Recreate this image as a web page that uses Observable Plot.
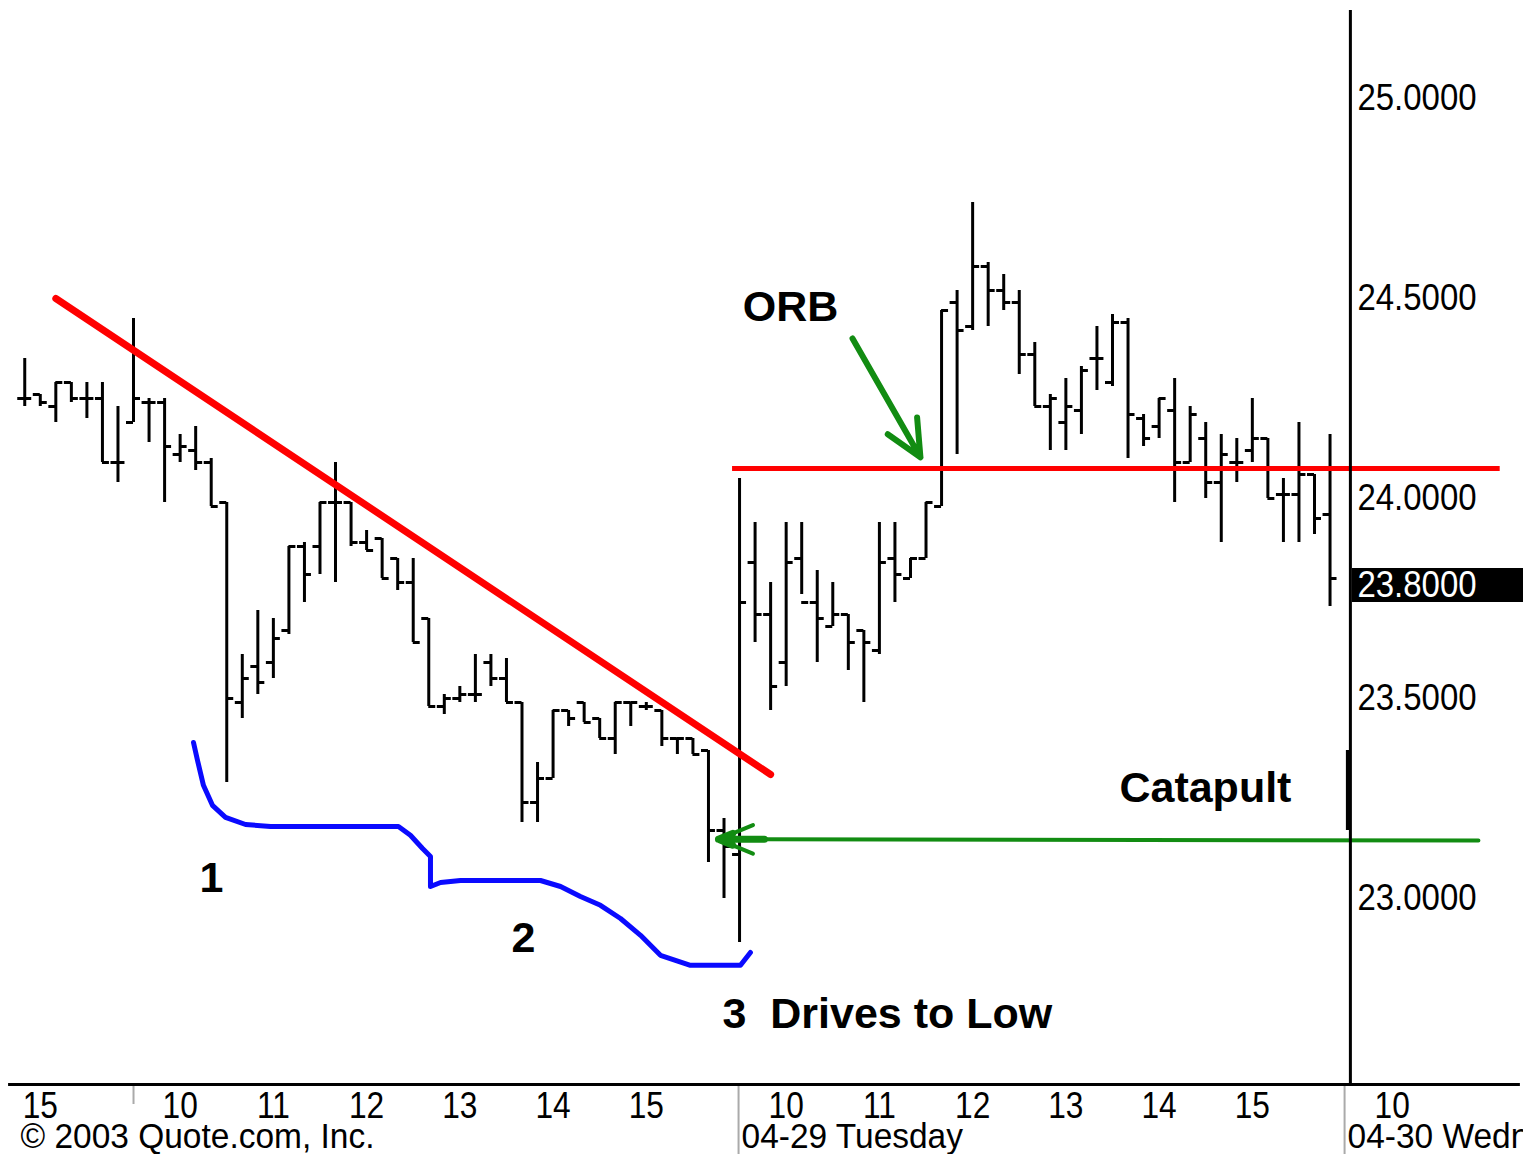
<!DOCTYPE html>
<html><head><meta charset="utf-8">
<script src="https://cdn.jsdelivr.net/npm/d3@7"></script>
<script src="https://cdn.jsdelivr.net/npm/@observablehq/plot@0.6"></script>
<style>
html,body{margin:0;padding:0;background:#fff;overflow:hidden;}
#chart svg{display:block;}
</style>
</head><body><div id="chart"></div>
<script>
// 10-minute bars; slot 0 = 04-28 09:30, slot 39 = 04-29 09:30
const barSlot = d3.range(-7, 78);
const barOpen = [24.25,24.26,24.23,24.29,24.25,24.25,24.09,
  24.19,24.24,24.24,24.11,24.12,24.09,23.99,23.49,23.58,23.59,23.67,23.88,23.88,23.99,23.99,23.89,23.90,23.85,23.79,23.70,23.48,23.50,23.51,23.59,23.55,23.49,23.24,23.30,23.47,23.49,23.45,23.40,23.49,23.48,23.47,23.40,23.40,23.37,23.17,
  23.11,23.84,23.71,23.59,23.85,23.74,23.68,23.71,23.67,23.62,23.85,23.80,23.85,23.98,24.49,24.43,24.58,24.52,24.49,24.36,24.23,24.19,24.22,24.35,24.29,24.44,24.20,24.18,24.22,24.09,24.15,24.04,24.09,24.12,24.15,24.01,24.01,24.06,23.96];
const barHigh = [24.35,24.26,24.29,24.29,24.29,24.29,24.23,
  24.45,24.25,24.25,24.16,24.18,24.10,23.99,23.61,23.72,23.70,23.88,23.89,23.99,24.09,23.99,23.92,23.90,23.85,23.85,23.70,23.51,23.53,23.61,23.61,23.60,23.49,23.34,23.47,23.47,23.49,23.45,23.49,23.49,23.49,23.47,23.40,23.40,23.37,23.20,
  24.05,23.94,23.79,23.94,23.94,23.82,23.79,23.71,23.67,23.94,23.94,23.85,23.99,24.47,24.52,24.74,24.59,24.56,24.52,24.39,24.26,24.30,24.33,24.43,24.46,24.45,24.21,24.25,24.30,24.23,24.19,24.16,24.15,24.25,24.15,24.05,24.19,24.06,24.16];
const barLow = [24.23,24.23,24.19,24.24,24.20,24.09,24.04,
  24.19,24.14,23.99,24.09,24.07,23.98,23.29,23.45,23.51,23.55,23.66,23.74,23.81,23.79,23.88,23.87,23.80,23.77,23.64,23.48,23.46,23.49,23.49,23.53,23.49,23.19,23.19,23.30,23.43,23.44,23.40,23.36,23.43,23.47,23.38,23.36,23.36,23.09,23.00,
  22.89,23.64,23.47,23.53,23.76,23.59,23.68,23.57,23.49,23.61,23.74,23.80,23.85,23.98,24.11,24.42,24.43,24.47,24.31,24.23,24.12,24.12,24.16,24.27,24.28,24.10,24.13,24.15,23.99,24.09,24.00,23.89,24.04,24.09,24.00,23.89,23.89,23.91,23.73];
const barClose = [24.25,24.24,24.29,24.25,24.25,24.09,24.09,
  24.25,24.24,24.13,24.13,24.09,23.98,23.50,23.55,23.54,23.65,23.88,23.81,23.99,23.99,23.89,23.87,23.80,23.79,23.64,23.48,23.50,23.51,23.51,23.55,23.49,23.24,23.30,23.47,23.45,23.44,23.40,23.49,23.49,23.48,23.40,23.40,23.36,23.17,23.13,
  23.74,23.71,23.53,23.84,23.74,23.70,23.71,23.64,23.64,23.84,23.81,23.85,23.99,24.47,24.42,24.58,24.52,24.49,24.36,24.23,24.25,24.23,24.32,24.35,24.44,24.21,24.15,24.25,24.09,24.21,24.04,24.11,24.09,24.15,24.00,24.01,24.06,23.95,23.80];

// axis labels
const priceTicks = [25.0, 24.5, 24.0, 23.5, 23.0];
const lastPrice = 23.80;
const hourSlots = [-6, 3, 9, 15, 21, 27, 33, 42, 48, 54, 60, 66, 72, 81];
const hourLabels = ["15","10","11","12","13","14","15","10","11","12","13","14","15","10"];
const daySlots = [39, 78];
const dayLabels = ["04-29 Tuesday", "04-30 Wednesday"];
const copyright = "\u00a9 2003 Quote.com, Inc.";

// annotations (slot, price)
const trendSlot = [-5.0, 41.0];
const trendPrice = [24.50, 23.31];
const orbLineSlot = [38.55, 87.95];
const orbLevel = 24.075;
const orbArrow = {x1: 46.27, y1: 24.40, x2: 50.64, y2: 24.103};
const catapultArrow = {x1: 86.55, y1: 23.145, x2: 37.64, y2: 23.148};
const catapultHead = {x1: 40.6, y1: 23.148, x2: 37.64, y2: 23.148};
const blueSlot = [3.86,4.12,4.50,5.08,5.92,7.21,8.82,12.68,17.05,17.82,18.60,19.11,19.11,19.76,21.04,26.19,27.48,28.76,30.05,31.34,32.63,33.91,35.84,39.06,39.70];
const bluePrice = [23.39,23.345,23.283,23.233,23.203,23.185,23.18,23.18,23.18,23.158,23.125,23.105,23.03,23.04,23.045,23.045,23.03,23.005,22.983,22.95,22.908,22.858,22.833,22.833,22.865];
const notes = ["ORB", "Catapult", "1", "2"];
const noteSlot = [42.28, 68.98, 5.02, 25.10];
const notePrice = [24.478, 23.275, 23.05, 22.90];
const driveText = "3  Drives to Low";
const driveSlot = 37.9, drivePrice = 22.71;
const markerRange = [23.17, 23.37];

// layout constants
const xDomain = [-8.56, 89.45];
const yDomain = [22.535, 25.22];
const axisSlot = 78.31;
const tickLen = 0.45;

const bars = barSlot.map((s, i) => ({slot: s, open: barOpen[i], high: barHigh[i], low: barLow[i], close: barClose[i]}));
const blue = blueSlot.map((s, i) => ({x: s, y: bluePrice[i]}));
const trend = trendSlot.map((s, i) => ({x: s, y: trendPrice[i]}));
const hours = hourSlots.map((s, i) => ({x: s, t: hourLabels[i]}));
const days = daySlots.map((s, i) => ({x: s, t: dayLabels[i]}));
const noteData = notes.map((t, i) => ({t, x: noteSlot[i], y: notePrice[i]}));

const font = "'Liberation Sans', Arial, sans-serif";
const green = "#128c12";
const tag = name => ({ariaDescription: name, ariaLabel: () => name});

const chart = Plot.plot({
  width: 1523, height: 1154,
  marginTop: 10, marginBottom: 70, marginLeft: 0, marginRight: 0,
  x: {domain: xDomain, axis: null},
  y: {domain: yDomain, axis: null},
  style: {background: "#fff", fontFamily: font, color: "#000"},
  marks: [
    // day separators below the axis
    Plot.ruleX([0], {x: d => d, y1: yDomain[0], y2: yDomain[0] - 0.05, stroke: "#aaa", strokeWidth: 2}),
    Plot.ruleX(daySlots, {x: d => d, dx: -1, y1: yDomain[0], y2: yDomain[0] - 0.2, stroke: "#aaa", strokeWidth: 2}),
    // blue drives curve
    Plot.line(blue, {x: "x", y: "y", stroke: "#0a0aff", strokeWidth: 5, strokeLinejoin: "round", strokeLinecap: "round"}),
    // OHLC bars
    Plot.ruleX(bars, {x: "slot", y1: "low", y2: "high", stroke: "#000", strokeWidth: 3}),
    Plot.ruleY(bars, {y: "open", x1: d => d.slot - tickLen, x2: "slot", stroke: "#000", strokeWidth: 3}),
    Plot.ruleY(bars, {y: "close", x1: "slot", x2: d => d.slot + tickLen, stroke: "#000", strokeWidth: 3}),
    // red trendline and ORB level
    Plot.line(trend, {x: "x", y: "y", stroke: "#ff0000", strokeWidth: 7}),
    Plot.ruleY([orbLevel], {y: d => d, x1: orbLineSlot[0], x2: orbLineSlot[1], stroke: "#ff0000", strokeWidth: 5}),
    // green arrows
    Plot.arrow([orbArrow], {x1: "x1", y1: "y1", x2: "x2", y2: "y2", stroke: green, strokeWidth: 6, headLength: 10, headAngle: 50}),
    Plot.arrow([catapultArrow], {x1: "x1", y1: "y1", x2: "x2", y2: "y2", stroke: green, strokeWidth: 4, headLength: 14, headAngle: 45}),
    Plot.arrow([catapultHead], {x1: "x1", y1: "y1", x2: "x2", y2: "y2", stroke: green, strokeWidth: 7, headLength: 8, headAngle: 45}),
    // axes
    Plot.ruleX([axisSlot], {x: d => d, y1: yDomain[0], y2: yDomain[1], stroke: "#000", strokeWidth: 3}),
    Plot.ruleX([axisSlot], {x: d => d, dx: -2, y1: markerRange[0], y2: markerRange[1], stroke: "#000", strokeWidth: 5}),
    Plot.ruleY([yDomain[0]], {y: d => d, x1: -8.04, x2: 89.25, stroke: "#000", strokeWidth: 3}),
    // price labels
    Plot.text(priceTicks, {x: axisSlot, y: d => d, text: d => d.toFixed(4), textAnchor: "start", dx: 7, fontSize: 33, fill: "#000", ...tag("price-labels")}),
    Plot.rect([lastPrice], {x1: axisSlot, x2: xDomain[1], y1: d => d - 0.0425, y2: d => d + 0.0425, dy: 7, insetLeft: 2, fill: "#000"}),
    Plot.text([lastPrice], {x: axisSlot, y: d => d, text: d => d.toFixed(4), textAnchor: "start", dx: 7, dy: 7, fontSize: 33, fill: "#fff", ...tag("price-labels")}),
    // time labels
    Plot.text(hours, {x: "x", y: yDomain[0], text: "t", dy: 21, fontSize: 36, lineAnchor: "middle", fill: "#000", ...tag("hour-labels")}),
    Plot.text(days, {x: "x", y: yDomain[0], text: "t", dy: 52, dx: 2, textAnchor: "start", lineAnchor: "middle", fontSize: 36, fill: "#000", ...tag("day-labels")}),
    Plot.text([copyright], {frameAnchor: "bottom-left", dx: 20, dy: 52, textAnchor: "start", lineAnchor: "middle", fontSize: 36, fill: "#000", ...tag("day-labels")}),
    // annotation text
    Plot.text(noteData, {x: "x", y: "y", text: "t", fontSize: 43, fontWeight: "bold", fill: "#000"}),
    Plot.text([driveText], {x: driveSlot, y: drivePrice, text: d => d, textAnchor: "start", fontSize: 43, fontWeight: "bold", fill: "#000"})
  ]
});

function stretch(svg, label, sx, sy) {
  const sel = `text[aria-label="${label}"], g[aria-description="${label}"] text, g[aria-label="${label}"] text`;
  new Set(svg.querySelectorAll(sel)).forEach(t => {
    const tr = t.getAttribute("transform");
    if (tr && tr.includes("translate")) {
      t.setAttribute("transform", tr + ` scale(${sx},${sy})`);
    } else {
      const x = +(t.getAttribute("x") || 0), y = +(t.getAttribute("y") || 0);
      t.removeAttribute("x"); t.removeAttribute("y");
      t.setAttribute("transform", `translate(${x},${y}) scale(${sx},${sy})`);
    }
  });
}
stretch(chart, "price-labels", 1.0, 1.1);
stretch(chart, "hour-labels", 0.88, 1.05);
stretch(chart, "day-labels", 0.93, 1.0);

document.getElementById("chart").appendChild(chart);
</script>
</body></html>
